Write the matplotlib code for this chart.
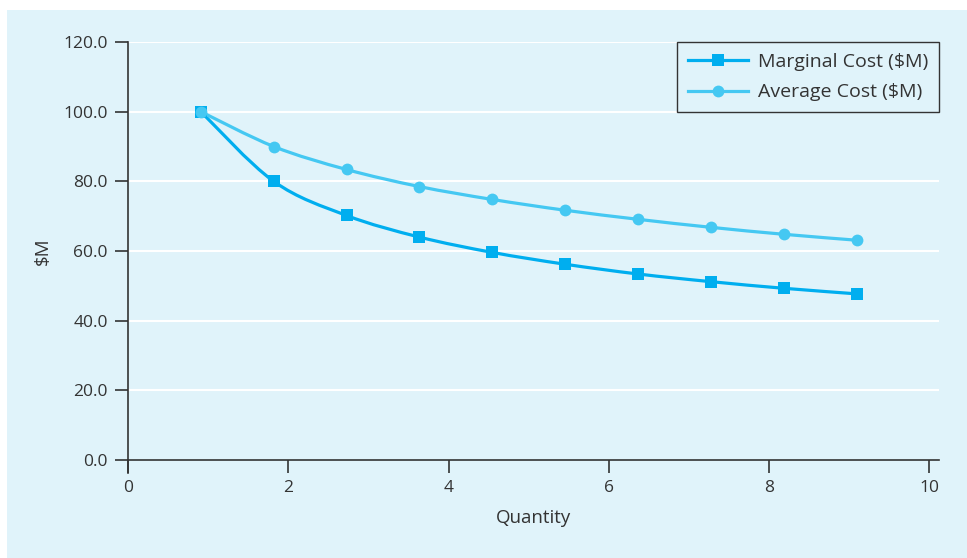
import numpy as np
import matplotlib
matplotlib.use('Agg')
from matplotlib import pylab as plt
from matplotlib.path import Path
from matplotlib.patches import PathPatch, Rectangle
from matplotlib.lines import Line2D

plt.rcParams['font.family'] = ['Open Sans', 'DejaVu Sans']

# quantity positions of the markers
quantity = [0.909, 1.818, 2.727, 3.636, 4.545, 5.455, 6.364, 7.273, 8.182, 9.091]
marginal_cost = [100.0, 80.0, 70.2, 64.0, 59.6, 56.2, 53.4, 51.2, 49.3, 47.7]
average_cost = [100.0, 90.0, 83.4, 78.5, 74.8, 71.7, 69.1, 66.8, 64.8, 63.1]
yticks = [0, 20, 40, 60, 80, 100, 120]
xticks = [0, 2, 4, 6, 8, 10]

bg = '#e0f3fa'
mc_color = '#00aeef'
ac_color = '#45c8f2'
axis_color = '#333333'


def smooth_path(x, y):
    # catmull-rom style bezier through the points, like a spreadsheet "smoothed line"
    pts = np.column_stack([x, y])
    verts = [pts[0]]
    codes = [Path.MOVETO]
    n = len(pts)
    for i in range(n - 1):
        p0 = pts[i - 1] if i > 0 else pts[i]
        p1 = pts[i]
        p2 = pts[i + 1]
        p3 = pts[i + 2] if i + 2 < n else pts[i + 1]
        c1 = p1 + (p2 - p0) / 6.
        c2 = p2 - (p3 - p1) / 6.
        verts += [c1, c2, p2]
        codes += [Path.CURVE4] * 3
    return Path(verts, codes)


fig = plt.figure(figsize=(9.67, 5.58), dpi=100)
fig.patch.set_facecolor('white')
fig.patches.append(Rectangle((7/967., 0), 1, 548/558., transform=fig.transFigure,
                             facecolor=bg, edgecolor='none', zorder=-10))

ax = fig.add_axes([128/967., 98/558., (939-128)/967., (460-42)/558.])
ax.set_facecolor(bg)
ax.patch.set_alpha(0)

for val in yticks[1:]:
    ax.axhline(val, color='white', linewidth=1.5, zorder=1)

for xs, ys, col, mk, ms in [(quantity, marginal_cost, mc_color, 's', 8),
                            (quantity, average_cost, ac_color, 'o', 8.5)]:
    ax.add_patch(PathPatch(smooth_path(xs, ys), facecolor='none', edgecolor=col,
                           linewidth=2.3, zorder=3))
    ax.plot(xs, ys, linestyle='none', marker=mk, markersize=ms, color=col,
            markeredgewidth=0, zorder=4)

ax.set_xlim(0, 10.12)
ax.set_ylim(0, 120)
ax.set_xticks(xticks)
ax.set_yticks(yticks)
ax.set_yticklabels([f"{v:.1f}" for v in yticks])
ax.tick_params(direction='out', length=9.5, width=1.2, colors=axis_color,
               labelsize=12.5, pad=5)
ax.tick_params(axis='x', pad=5)
for side in ['top', 'right']:
    ax.spines[side].set_visible(False)
for side in ['left', 'bottom']:
    ax.spines[side].set_color(axis_color)
    ax.spines[side].set_linewidth(1.2)
ax.spines['left'].set_bounds(-3.6, 120)

ax.set_xlabel('Quantity', fontsize=13.5, color=axis_color, labelpad=9)
ax.set_ylabel('$M', fontsize=13.5, color=axis_color, labelpad=8)

handles = [Line2D([], [], color=mc_color, linewidth=2.3, marker='s', markersize=8,
                  markeredgewidth=0),
           Line2D([], [], color=ac_color, linewidth=2.3, marker='o', markersize=8.5,
                  markeredgewidth=0)]
leg = ax.legend(handles, ['Marginal Cost ($M)', 'Average Cost ($M)'], loc='upper right',
                borderaxespad=0, fancybox=False, fontsize=14, handlelength=3.1,
                handletextpad=0.5, labelcolor=axis_color, borderpad=0.55,
                labelspacing=0.65)
leg.get_frame().set_edgecolor(axis_color)
leg.get_frame().set_linewidth(1.0)
leg.get_frame().set_facecolor(bg)
leg.get_frame().set_alpha(1)

fig.savefig('out.png', dpi=100, facecolor=fig.get_facecolor())
